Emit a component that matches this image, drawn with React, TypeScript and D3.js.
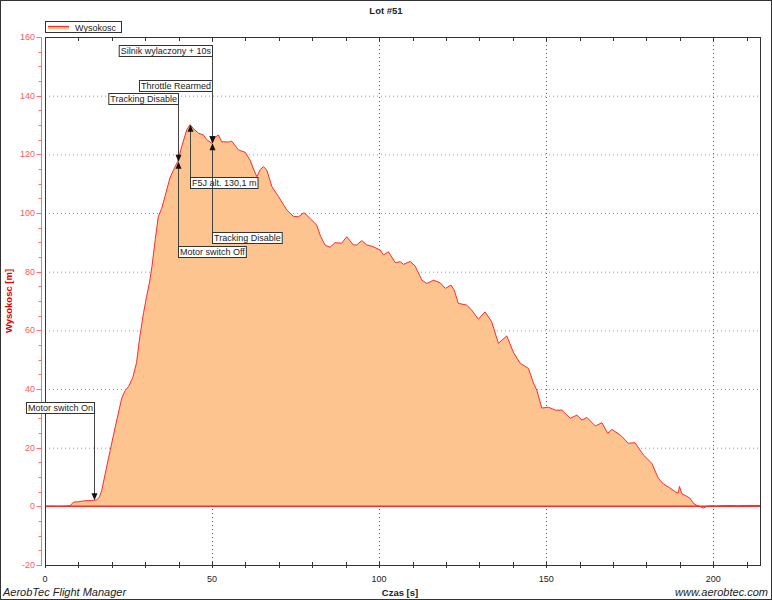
import React, { useEffect, useRef } from 'react';
import * as d3 from 'd3';

// flight log, time [s] -> altitude [m]
const times = [
  0, 2, 4, 6, 7.5, 8.5, 10, 12, 14, 15.5, 16.3, 17, 18, 19.5, 21, 23, 24, 25, 26.3, 27.4,
  28.4, 29.5, 30.4, 31.3, 32, 33, 33.9, 34.9, 36, 37.4, 38.4, 39.7, 40.9, 42.4, 43.4, 44.4,
  45.9, 47.4, 48.4, 49.9, 50.9, 51.9, 52.9, 54.9, 55.9, 57.9, 59.9, 61.4, 62.4, 63.4, 64.4,
  65.4, 66.4, 67.9, 69.9, 71.4, 72.4, 74.3, 75.8, 77.5, 79.3, 81.3, 82.5, 83.8, 85.3, 86.8,
  88.8, 90.3, 91.3, 92.3, 93.3, 94.8, 96.3, 97.8, 100.3, 101.3, 102.8, 104.8, 106.3, 107.3,
  109.3, 110.8, 112.8, 114.3, 116.3, 118.3, 119.8, 121.5, 122.5, 123.7, 126.2, 127.7, 129.7,
  131.7, 133.7, 135.7, 138.2, 140.2, 142.2, 144.7, 146.2, 147.2, 148.7, 150.7, 152.7, 154.7,
  157.2, 159.2, 160.7, 162.2, 164.7, 166.7, 168.4, 169.7, 172.2, 174.6, 176.6, 179.1, 181.6,
  183.6, 185.1, 187, 188.6, 189.5, 189.9, 190.6, 191.8, 193.1, 194.1, 195, 196.1, 197.1, 198,
  199.1, 201, 204, 207, 210, 214,
];
const altitude = [
  0, 0.1, 0, 0.1, 0.2, 1.4, 1.6, 1.9, 2.0, 2.2, 3.2, 5.5, 11, 19, 27, 37, 39.5, 40.8, 44, 49,
  58, 66, 71.5, 76.5, 81.7, 91, 98.7, 101.5, 106, 112, 114.5, 117.5, 122.6, 128.3, 130.1, 128.8,
  127.2, 126.6, 125, 123.8, 125.8, 126.6, 124.3, 124.2, 124.5, 121.5, 120.7, 118, 115, 112.4, 114.8,
  115.8, 114.6, 109, 105.6, 102.8, 101, 98.9, 98.7, 100.1, 98.2, 95.9, 92, 89.1, 88.3, 89.9,
  89.7, 91.9, 90.5, 89.1, 89.1, 90.6, 89.1, 88.7, 87.4, 85.7, 86.8, 83.1, 83.4, 82.5,
  83.5, 81.9, 77.1, 76, 77.1, 76.2, 74.3, 75.4, 73.7, 69.2, 68.6, 66.9, 63.8,
  66.3, 62.9, 55.6, 58.1, 52.5, 48.8, 47, 42, 39.6, 33.5, 33.8, 32.8, 32.8,
  30, 31.1, 29.4, 30.3, 27.4, 28.5, 24.9, 26.2, 24.3, 21.5, 21.7, 17.5, 14.7,
  9.5, 7.6, 6.3, 5, 4.5, 6.8, 4.3, 3.6, 2.7, 1, 0.4, -0.1, -0.6, 0,
  0.2, 0.1, 0.3, 0.2, 0.3, 0.3,
];

// markers: time, text, altitude of the label box edge, label side, arrow direction
const eventTimes = [14.8, 39.7, 39.7, 43.4, 49.9, 49.9, 49.9];
const eventLabels = [
  'Motor switch On', 'Motor switch Off', 'Tracking Disable', 'F5J alt. 130,1 m',
  'Throttle Rearmed', 'Silnik wylaczony + 10s', 'Tracking Disable',
];
const eventLabelAlt = [31.9, 88.8, 137.2, 112.2, 141.6, 153.5, 93.5];
const eventFromAbove = [true, false, true, false, true, true, false];

const yTicks = [-20, 0, 20, 40, 60, 80, 100, 120, 140, 160];
const xTicks = [0, 50, 100, 150, 200];

const W = 772;
const H = 600;
const M = { left: 45, right: 760, top: 37, bottom: 565 };
const FONT = 'Liberation Sans, Arial, sans-serif';

export default function App() {
  const svgRef = useRef<SVGSVGElement | null>(null);

  useEffect(() => {
    if (!svgRef.current) return;
    const svg = d3.select(svgRef.current);
    svg.selectAll('*').remove();

    const x = d3.scaleLinear().domain([0, 214]).range([M.left, M.right]);
    const y = d3.scaleLinear().domain([-20, 160]).range([M.bottom, M.top]);
    const pts = times.map((t, i) => [t, altitude[i]] as [number, number]);
    const altAt = (t: number) => {
      const i = d3.bisector((d: [number, number]) => d[0]).right(pts, t);
      const a = pts[Math.max(0, i - 1)], b = pts[Math.min(pts.length - 1, i)];
      if (a[0] === b[0]) return a[1];
      return a[1] + (b[1] - a[1]) * (t - a[0]) / (b[0] - a[0]);
    };

    svg.append('rect').attr('x', 0.5).attr('y', 0.5).attr('width', W - 1).attr('height', H - 1)
      .attr('fill', '#fff').attr('stroke', '#333');

    // grid
    const grid = svg.append('g');
    grid.selectAll('line.h').data(yTicks.filter(v => v > 0 && v < 160)).enter().append('line')
      .attr('x1', M.left).attr('x2', M.right)
      .attr('y1', d => y(d) + 0.5).attr('y2', d => y(d) + 0.5)
      .attr('stroke', '#ff7070').attr('stroke-dasharray', '1,3');
    grid.selectAll('line.v').data(xTicks.filter(v => v > 0)).enter().append('line')
      .attr('x1', d => Math.round(x(d)) + 0.5).attr('x2', d => Math.round(x(d)) + 0.5)
      .attr('y1', M.top).attr('y2', M.bottom)
      .attr('stroke', '#555').attr('stroke-dasharray', '1,3');

    // area + line
    const area = d3.area<[number, number]>().x(d => x(d[0])).y0(y(0)).y1(d => y(d[1]));
    const line = d3.line<[number, number]>().x(d => x(d[0])).y(d => y(d[1]));
    svg.append('path').attr('d', area(pts)).attr('fill', '#fdc48f');
    svg.append('line').attr('x1', M.left).attr('x2', M.right)
      .attr('y1', y(0)).attr('y2', y(0)).attr('stroke', '#ff2a2a').attr('stroke-width', 1.5);
    svg.append('path').attr('d', line(pts)).attr('fill', 'none')
      .attr('stroke', '#ff2a2a').attr('stroke-width', 1);

    // plot frame
    svg.append('rect').attr('x', M.left + 0.5).attr('y', M.top + 0.5)
      .attr('width', M.right - M.left).attr('height', M.bottom - M.top)
      .attr('fill', 'none').attr('stroke', '#333');

    // x axis ticks (bottom + top)
    const minorX = d3.range(0, 214, 10);
    svg.selectAll('line.xt').data(minorX).enter().append('line')
      .attr('x1', d => Math.round(x(d)) + 0.5).attr('x2', d => Math.round(x(d)) + 0.5)
      .attr('y1', M.bottom - 3).attr('y2', M.bottom + 3).attr('stroke', '#333');
    svg.selectAll('line.xtt').data(minorX).enter().append('line')
      .attr('x1', d => Math.round(x(d)) + 0.5).attr('x2', d => Math.round(x(d)) + 0.5)
      .attr('y1', M.top).attr('y2', M.top + 4).attr('stroke', '#333');
    svg.selectAll('text.xl').data(xTicks).enter().append('text')
      .attr('x', d => x(d)).attr('y', M.bottom + 17).attr('text-anchor', 'middle')
      .attr('font-family', FONT).attr('font-size', 9).attr('fill', '#222')
      .text(d => d);

    // y axis (red, offset left)
    const ax = 41.5;
    svg.append('line').attr('x1', ax).attr('x2', ax).attr('y1', M.top).attr('y2', M.bottom + 1)
      .attr('stroke', '#ff7070');
    svg.selectAll('line.ym').data(d3.range(-20, 161, 5)).enter().append('line')
      .attr('x1', d => (d % 20 === 0 ? ax - 5 : ax - 3)).attr('x2', ax)
      .attr('y1', d => Math.round(y(d)) + 0.5).attr('y2', d => Math.round(y(d)) + 0.5)
      .attr('stroke', '#ff7070');
    svg.selectAll('text.yl').data(yTicks).enter().append('text')
      .attr('x', 35).attr('y', d => y(d) + 3).attr('text-anchor', 'end')
      .attr('font-family', FONT).attr('font-size', 9).attr('fill', '#ff5a5a')
      .text(d => d);

    // titles
    svg.append('text').attr('x', 386).attr('y', 14).attr('text-anchor', 'middle')
      .attr('font-family', FONT).attr('font-size', 9.5).attr('font-weight', 'bold')
      .attr('fill', '#222').text('Lot #51');
    svg.append('text').attr('x', 400).attr('y', 596).attr('text-anchor', 'middle')
      .attr('font-family', FONT).attr('font-size', 9.5).attr('font-weight', 'bold')
      .attr('fill', '#222').text('Czas [s]');
    svg.append('text').attr('transform', 'translate(12,301) rotate(-90)').attr('text-anchor', 'middle')
      .attr('font-family', FONT).attr('font-size', 9.5).attr('font-weight', 'bold')
      .attr('fill', '#e00000').text('Wysokosc [m]');
    svg.append('text').attr('x', 3).attr('y', 596)
      .attr('font-family', FONT).attr('font-size', 11).attr('font-style', 'italic')
      .attr('fill', '#222').text('AerobTec Flight Manager');
    svg.append('text').attr('x', 768).attr('y', 596).attr('text-anchor', 'end')
      .attr('font-family', FONT).attr('font-size', 11).attr('font-style', 'italic')
      .attr('fill', '#222').text('www.aerobtec.com');

    // legend
    const lg = svg.append('g');
    lg.append('rect').attr('x', 45.5).attr('y', 21.5).attr('width', 76).attr('height', 11)
      .attr('fill', '#fff').attr('stroke', '#333');
    lg.append('line').attr('x1', 48).attr('x2', 69).attr('y1', 28).attr('y2', 28)
      .attr('stroke', '#fdc48f').attr('stroke-width', 3);
    lg.append('line').attr('x1', 48).attr('x2', 69).attr('y1', 26.5).attr('y2', 26.5)
      .attr('stroke', '#ff2a2a').attr('stroke-width', 1.2);
    lg.append('text').attr('x', 75).attr('y', 30.5).attr('font-family', FONT).attr('font-size', 9)
      .attr('fill', '#222').text('Wysokosc');

    // event markers
    const ev = svg.append('g');
    eventTimes.forEach((t, i) => {
      const lx = Math.round(x(t)) + 0.5;
      const cy = y(altAt(t));
      const ly = Math.round(y(eventLabelAlt[i]));
      const above = eventFromAbove[i];
      const boxH = 11;
      const boxTop = above ? ly - boxH : ly;
      const tipY = cy;
      const startY = above ? ly : ly;
      ev.append('line').attr('x1', lx).attr('x2', lx)
        .attr('y1', startY).attr('y2', above ? tipY - 6 : tipY + 6)
        .attr('stroke', '#444');
      const dir = above ? -1 : 1;
      ev.append('path')
        .attr('d', `M${lx},${tipY} L${lx - 3},${tipY + dir * 7} L${lx + 3},${tipY + dir * 7} Z`)
        .attr('fill', '#111');
      const g = ev.append('g');
      const rect = g.append('rect').attr('fill', '#fff').attr('stroke', '#333');
      const txt = g.append('text').attr('font-family', FONT).attr('font-size', 9)
        .attr('fill', '#222').attr('y', boxTop + 8.5).text(eventLabels[i]);
      const w = (txt.node() as SVGTextElement).getComputedTextLength() + 3;
      // boxes left of the line for arrows from above (and the launch marker), right otherwise
      const leftSide = above;
      const bx = leftSide ? lx - w : lx;
      rect.attr('x', bx).attr('y', boxTop + 0.5).attr('width', w).attr('height', boxH);
      txt.attr('x', bx + 1.5);
    });
  }, []);

  return (
    <svg ref={svgRef} width={W} height={H}
      style={{ position: 'absolute', left: 0, top: 0, background: '#fff' }} />
  );
}
